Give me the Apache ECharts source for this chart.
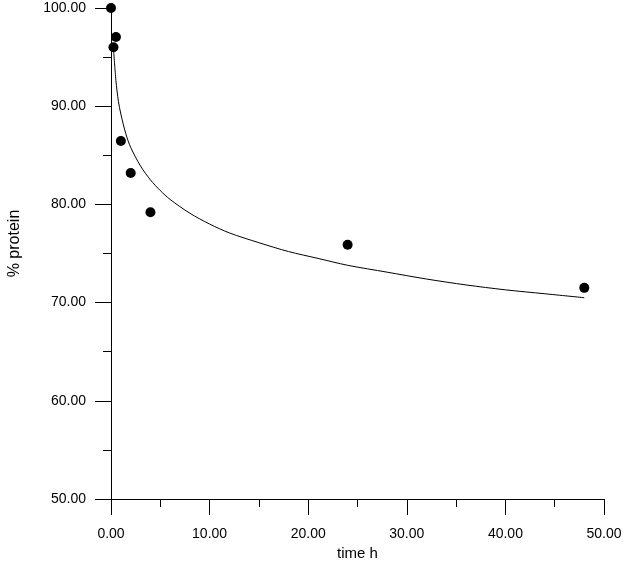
<!DOCTYPE html>
<html>
<head>
<meta charset="utf-8">
<script src="https://cdn.jsdelivr.net/npm/echarts@6/dist/echarts.min.js"></script>
<style>
html,body{margin:0;padding:0;background:#fff;}
#chart{width:623px;height:562px;}
</style>
</head>
<body>
<div id="chart"></div>
<script>
// Measured data points (time h, % protein)
var timeH = [0, 0.25, 0.5, 1, 2, 4, 24, 48];
var protein = [100, 96.0, 97.05, 86.45, 83.2, 79.2, 75.9, 71.5];

// Fitted curve
var curveX = [0.27, 0.5, 0.75, 1, 1.5, 2, 3, 4, 5, 6, 8, 10, 12, 15, 18, 21, 24, 28, 32, 36, 40, 44, 48];
var curveY = [95.6, 92.6, 90.5, 89.2, 87.2, 85.8, 83.9, 82.5, 81.4, 80.5, 79.1, 78.0, 77.1, 76.1, 75.2, 74.5, 73.8, 73.1, 72.4, 71.8, 71.3, 70.9, 70.5];

var xName = 'time h';
var yName = '% protein';

var chart = echarts.init(document.getElementById('chart'), null, {renderer: 'canvas'});
var fontFam = 'Liberation Sans, Arial, sans-serif';
var axisCommon = {
  axisLine: {show: true, onZero: false, lineStyle: {color: '#000', width: 1}},
  axisTick: {show: true, inside: false, length: 16, lineStyle: {color: '#000', width: 1}},
  minorTick: {show: true, splitNumber: 2, length: 8, lineStyle: {color: '#000', width: 1}},
  splitLine: {show: false},
  minorSplitLine: {show: false}
};
chart.setOption({
  animation: false,
  backgroundColor: '#fff',
  grid: {left: 111, right: 19, top: 8, bottom: 63, containLabel: false, outerBoundsMode: 'none'},
  xAxis: Object.assign({
    type: 'value', min: 0, max: 50, interval: 10,
    name: xName, nameLocation: 'middle', nameGap: 44,
    nameTextStyle: {color: '#000', fontSize: 15, fontFamily: fontFam},
    axisLabel: {color: '#000', fontSize: 14, fontFamily: fontFam, margin: 28,
      formatter: function (v) { return v.toFixed(2); }}
  }, axisCommon),
  yAxis: Object.assign({
    type: 'value', min: 50, max: 100, interval: 10,
    name: yName, nameLocation: 'middle', nameGap: 88,
    nameTextStyle: {color: '#000', fontSize: 16, fontFamily: fontFam, padding: [0, 0, 0, 20]},
    axisLabel: {color: '#000', fontSize: 14, fontFamily: fontFam, margin: 25,
      formatter: function (v) { return v.toFixed(2); }}
  }, axisCommon),
  series: [
    {
      type: 'line',
      data: curveX.map(function (x, i) { return [x, curveY[i]]; }),
      smooth: 0.3,
      showSymbol: false,
      lineStyle: {color: '#000', width: 1},
      z: 2
    },
    {
      type: 'scatter',
      data: timeH.map(function (x, i) { return [x, protein[i]]; }),
      symbol: 'circle',
      symbolSize: 10,
      itemStyle: {color: '#000', opacity: 1},
      z: 3
    }
  ]
});
</script>
</body>
</html>
